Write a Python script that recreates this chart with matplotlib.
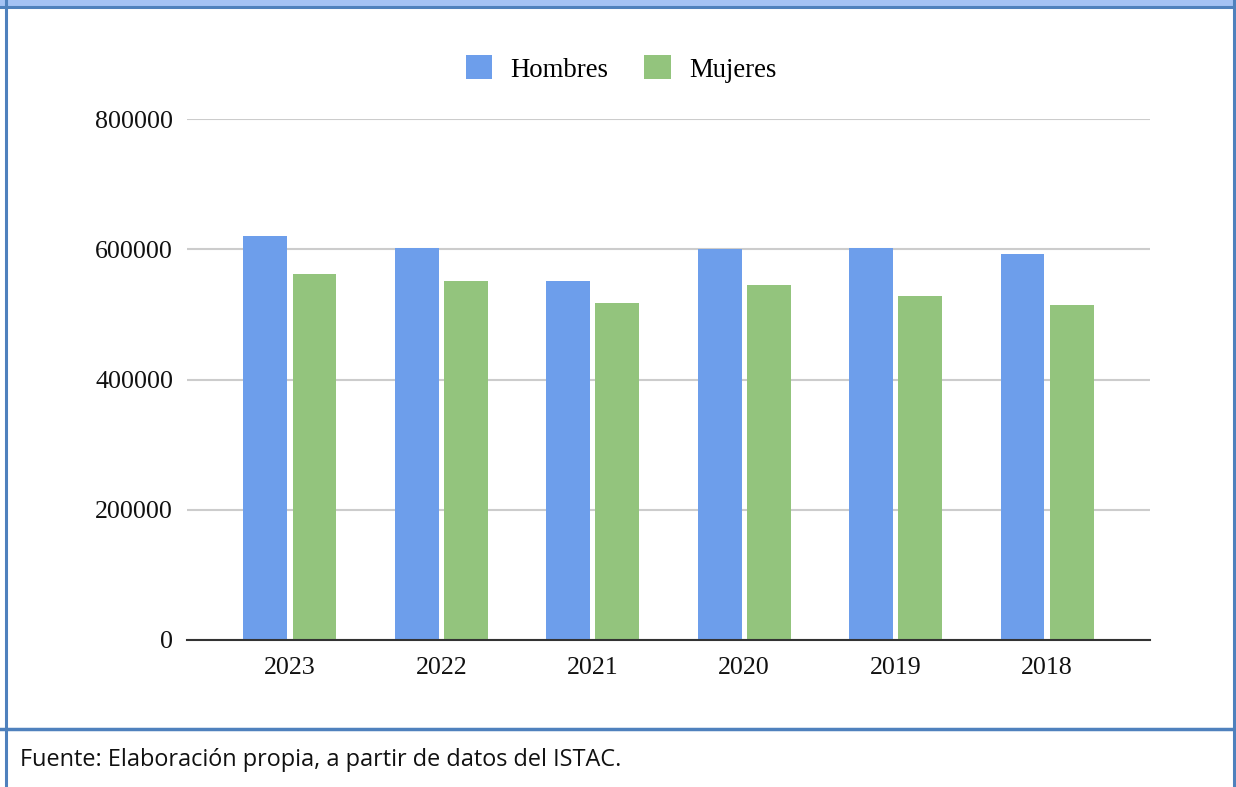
import matplotlib
matplotlib.use("Agg")
import matplotlib.pyplot as plt
import numpy as np
from matplotlib.patches import Rectangle, Patch
from matplotlib.lines import Line2D

years = ["2023", "2022", "2021", "2020", "2019", "2018"]
hombres = [620000, 603000, 552000, 600000, 603000, 593000]
mujeres = [562000, 552000, 518000, 545000, 528000, 515000]
yticks = [0, 200000, 400000, 600000, 800000]
caption = "Fuente: Elaboración propia, a partir de datos del ISTAC."

W, H = 1236, 787
fig = plt.figure(figsize=(W / 100, H / 100), dpi=100)
fig.patch.set_facecolor("white")

serif = ["Liberation Serif", "DejaVu Serif"]
blue = "#6d9eeb"
green = "#93c47d"
frame = "#4f81bd"

ax = fig.add_axes([187 / W, 1 - 640 / H, (1150 - 187) / W, (640 - 119.3) / H])
x = np.arange(len(years))
bw = 0.29
off = 0.162
ax.bar(x - off, hombres, bw, color=blue, zorder=3)
ax.bar(x + off, mujeres, bw, color=green, zorder=3)
ax.set_xlim(-0.68, 5.68)
ax.set_ylim(0, 800000)
ax.set_yticks(yticks)
ax.set_yticklabels([str(v) for v in yticks], fontfamily=serif, fontsize=18.7)
ax.set_xticks(x)
ax.set_xticklabels(years, fontfamily=serif, fontsize=18.7)
ax.tick_params(axis="both", length=0, colors="#111111")
ax.tick_params(axis="y", pad=10)
ax.tick_params(axis="x", pad=12)
for s in ["top", "right", "left"]:
    ax.spines[s].set_visible(False)
ax.spines["bottom"].set_color("#333333")
ax.spines["bottom"].set_linewidth(1.5)
ax.spines["bottom"].set_zorder(4)
ax.grid(axis="y", color="#cccccc", linewidth=1.5, zorder=0)
ax.set_axisbelow(True)
ax.set_facecolor("none")

handles = [Patch(facecolor=blue, edgecolor="none", label="Hombres"),
           Patch(facecolor=green, edgecolor="none", label="Mujeres")]
fig.legend(handles=handles, loc="center", bbox_to_anchor=(621 / W, 1 - 69 / H),
           ncol=2, frameon=False, prop={"family": serif, "size": 19.3},
           handlelength=1.0, handleheight=1.0, handletextpad=0.67, columnspacing=1.34)

# frame decorations
fig.patches.append(Rectangle((0, 1 - 6 / H), 1, 6 / H, transform=fig.transFigure,
                             facecolor="#a4c2f4", edgecolor="none"))
fig.lines.append(Line2D([0, 1], [1 - 7 / H, 1 - 7 / H], transform=fig.transFigure,
                        color=frame, linewidth=2.2))
fig.lines.append(Line2D([6 / W, 6 / W], [0, 1], transform=fig.transFigure,
                        color=frame, linewidth=2.2))
fig.lines.append(Line2D([1234 / W, 1234 / W], [0, 1], transform=fig.transFigure,
                        color=frame, linewidth=2.2))
fig.lines.append(Line2D([0, 1], [1 - 729 / H, 1 - 729 / H], transform=fig.transFigure,
                        color=frame, linewidth=2.5))

fig.text(20 / W, 1 - 760 / H, caption, fontfamily=["Open Sans", "DejaVu Sans"],
         fontsize=16.9, va="center", ha="left", color="#111111")

fig.savefig("out.png", dpi=100, facecolor="white")
